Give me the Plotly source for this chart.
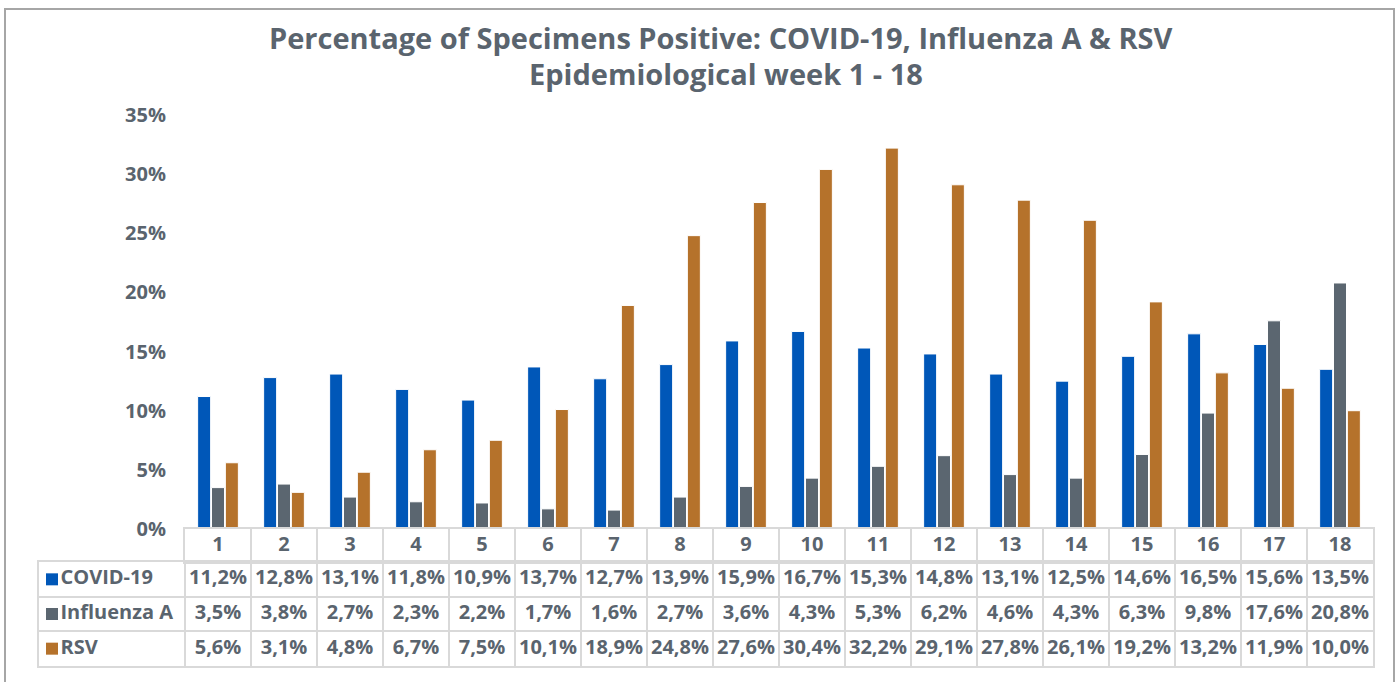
"""Percentage of specimens positive by epidemiological week, with a data table."""

import plotly.graph_objects as go

weeks = [1, 2, 3, 4, 5, 6, 7, 8, 9, 10, 11, 12, 13, 14, 15, 16, 17, 18]
covid = [11.2, 12.8, 13.1, 11.8, 10.9, 13.7, 12.7, 13.9, 15.9, 16.7, 15.3, 14.8, 13.1, 12.5, 14.6, 16.5, 15.6, 13.5]
flu_a = [3.5, 3.8, 2.7, 2.3, 2.2, 1.7, 1.6, 2.7, 3.6, 4.3, 5.3, 6.2, 4.6, 4.3, 6.3, 9.8, 17.6, 20.8]
rsv = [5.6, 3.1, 4.8, 6.7, 7.5, 10.1, 18.9, 24.8, 27.6, 30.4, 32.2, 29.1, 27.8, 26.1, 19.2, 13.2, 11.9, 10.0]

series = [
    ("COVID-19", covid, "#0057b8"),
    ("Influenza A", flu_a, "#5b6670"),
    ("RSV", rsv, "#b5722b"),
]

W, H = 1400, 682
TEXT = "#5a646e"
GRID = "#d9d9d9"
FONT = "Open Sans"
NONE = "rgba(0,0,0,0)"

# table geometry (pixels)
COL_W = 66
LABEL_W = 146
TABLE_LEFT = 39
PLOT_LEFT = 185
PLOT_RIGHT = 1373
X_LO = 0.5 - LABEL_W / COL_W  # left edge of the label column, in week units
KEY_X = X_LO + 13 / COL_W  # legend key inside the label column


def pct(v):
    return f"{v:.1f}%".replace(".", ",")


def py(px):
    # pixel row -> paper fraction (margins are zero)
    return 1 - px / H


tfont = {"family": FONT, "size": 20, "color": TEXT, "weight": "bold"}

fig = go.Figure()

for name, vals, color in series:
    fig.add_trace(
        go.Bar(
            x=weeks,
            y=vals,
            name=name,
            marker={"color": color, "line": {"color": "white", "width": 1}},
            hovertemplate="Week %{x}: %{y:.1f}%<extra>" + name + "</extra>",
        )
    )

# header row of the data table: week numbers
fig.add_trace(
    go.Scatter(
        x=weeks,
        y=[0] * len(weeks),
        text=[str(w) for w in weeks],
        mode="text",
        textfont=tfont,
        xaxis="x2",
        yaxis="y2",
        hoverinfo="skip",
    )
)

# body rows: legend key + name, then one value per week
for row, (name, vals, color) in enumerate(series):
    fig.add_trace(
        go.Scatter(
            x=[KEY_X],
            y=[row],
            text=[name],
            mode="markers+text",
            textposition="middle right",
            marker={"symbol": "square", "size": 12, "color": color},
            textfont=tfont,
            xaxis="x3",
            yaxis="y3",
            hoverinfo="skip",
        )
    )
    fig.add_trace(
        go.Scatter(
            x=weeks,
            y=[row] * len(weeks),
            text=[pct(v) for v in vals],
            mode="text",
            textfont=tfont,
            xaxis="x3",
            yaxis="y3",
            hoverinfo="skip",
        )
    )

cell_axis = {
    "showticklabels": False,
    "ticks": "",
    "showgrid": True,
    "gridcolor": GRID,
    "gridwidth": 2,
    "zeroline": False,
    "showline": True,
    "linecolor": GRID,
    "linewidth": 2,
    "mirror": True,
    "automargin": False,
    "fixedrange": True,
}
col_edges = [w - 0.5 for w in weeks] + [weeks[-1] + 0.5]

fig.update_layout(
    width=W,
    height=H,
    margin={"l": 0, "r": 0, "t": 0, "b": 0},
    paper_bgcolor="white",
    plot_bgcolor="white",
    showlegend=False,
    barmode="group",
    bargap=0.37,
    bargroupgap=0.06,
    font={"family": FONT, "color": TEXT},
    annotations=[
        {
            "text": "<b>Percentage of Specimens Positive: COVID-19, Influenza A & RSV</b>",
            "xref": "paper",
            "yref": "paper",
            "x": 721 / W,
            "y": py(38),
            "xanchor": "center",
            "yanchor": "middle",
            "showarrow": False,
            "font": {"family": FONT, "size": 29, "color": TEXT},
        },
        {
            "text": "<b>Epidemiological week 1 - 18</b>",
            "xref": "paper",
            "yref": "paper",
            "x": 726 / W,
            "y": py(73),
            "xanchor": "center",
            "yanchor": "middle",
            "showarrow": False,
            "font": {"family": FONT, "size": 29, "color": TEXT},
        },
    ],
    xaxis={
        "domain": [PLOT_LEFT / W, PLOT_RIGHT / W],
        "range": [0.5, 18.5],
        "showticklabels": False,
        "showgrid": False,
        "zeroline": False,
        "showline": False,
        "automargin": False,
        "fixedrange": True,
    },
    yaxis={
        "domain": [py(529), py(115)],
        "range": [0, 35],
        "dtick": 5,
        "ticksuffix": "%",
        "showgrid": False,
        "zeroline": False,
        "showline": False,
        "automargin": False,
        "ticklabelstandoff": 18,
        "tickfont": tfont,
        "fixedrange": True,
    },
    # header row
    xaxis2={
        **cell_axis,
        "domain": [PLOT_LEFT / W, PLOT_RIGHT / W],
        "range": [0.5, 18.5],
        "tickmode": "array",
        "tickvals": col_edges,
        "anchor": "y2",
    },
    yaxis2={
        **cell_axis,
        "showgrid": False,
        "domain": [py(562), py(529)],
        "range": [-0.5, 0.5],
        "anchor": "x2",
    },
    # body rows
    xaxis3={
        **cell_axis,
        "domain": [TABLE_LEFT / W, PLOT_RIGHT / W],
        "range": [X_LO, 18.5],
        "tickmode": "array",
        "tickvals": [X_LO] + col_edges,
        "anchor": "y3",
    },
    yaxis3={
        **cell_axis,
        "domain": [py(666), py(562)],
        "range": [len(series) - 0.5, -0.5],
        "tickmode": "array",
        "tickvals": [r - 0.5 for r in range(len(series) + 1)],
        "anchor": "x3",
    },
    shapes=[
        {
            "type": "rect",
            "xref": "paper",
            "yref": "paper",
            "x0": 5 / W,
            "x1": 1394 / W,
            "y0": -0.05,
            "y1": py(9),
            "line": {"color": "#a6a6a6", "width": 2},
            "fillcolor": NONE,
            "layer": "below",
        }
    ],
)

fig.write_html(
    "out.html",
    config={"displayModeBar": False},
    post_script="document.body.style.margin = '0';",
)
